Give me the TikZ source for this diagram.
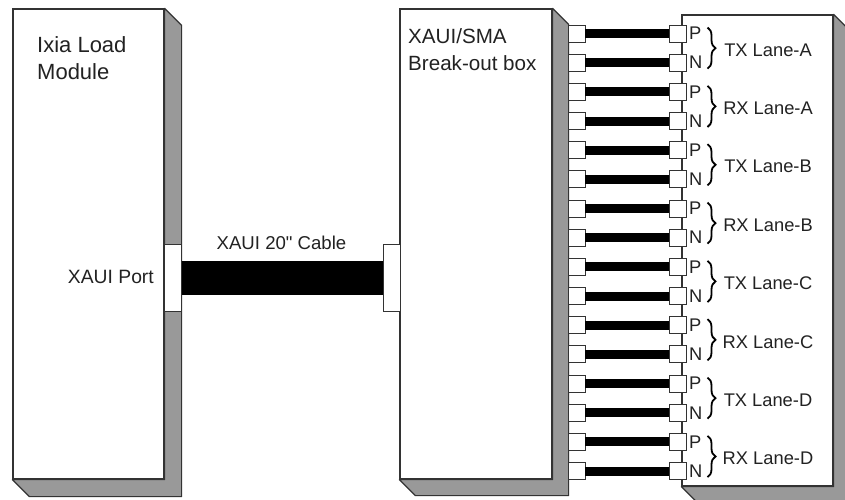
\documentclass[tikz,border=0pt]{standalone}
\usepackage{fontspec}
\setmainfont{Liberation Sans}[Ligatures=TeXOff]
\usetikzlibrary{arrows.meta,positioning,calc,decorations.pathreplacing}
\definecolor{XAline}{RGB}{51,51,51}
\definecolor{XAside}{RGB}{153,153,153}
\definecolor{XAtext}{RGB}{34,34,34}
\tikzset{
  chassis/.style={draw=XAline,line width=1.2pt,fill=white,inner sep=0pt},
  sideface/.style={draw=XAline,line width=1.2pt,fill=XAside,line join=round},
  bigport/.style={draw=XAline,line width=1pt,fill=white,inner sep=0pt,minimum width=17pt,minimum height=67pt},
  smallport/.style={draw=XAline,line width=0.9pt,fill=white,inner sep=0pt,minimum width=17pt,minimum height=17pt},
  bigcable/.style={draw=black,line width=34pt},
  smallcable/.style={draw=black,line width=9pt},
  lanebrace/.style={draw=black,line width=1.8pt,decorate,decoration={brace,amplitude=8pt,aspect=0.5}},
  title/.style={font=\fontsize{22}{27}\selectfont,text=XAtext,align=left,inner sep=0pt,anchor=north west},
  note/.style={font=\fontsize{18.3}{22}\selectfont,text=XAtext,inner sep=0pt}
}
\newcommand{\boxfaces}[2]{%
  \draw[sideface] (#1.north east) -- ++(#2,#2) |- ($(#1.south west)+(#2,#2)$) -- (#1.south west) -- (#1.south east) -- (#1.north east) -- cycle;
}
\begin{document}
\begin{tikzpicture}[x=1pt,y=-1pt]
  \path[clip,use as bounding box] (0,0) rectangle (845,499);
  \fill[white] (0,0) rectangle (845,499);

  \node[chassis,minimum width=151pt,minimum height=470pt] (ixia) at (88.5,244) {};
  \node[chassis,minimum width=152pt,minimum height=470pt] (breakout) at (476,244) {};
  \node[chassis,minimum width=151pt,minimum height=471pt] (lanes) at (757.5,250.5) {};
  \boxfaces{ixia}{17}
  \boxfaces{breakout}{16}
  \boxfaces{lanes}{17}

  \node[title] (ixialabel) at (37,36.5) {Ixia Load\\Module};
  \node[title,font=\fontsize{20.6}{27}\selectfont] (breakoutlabel) at (408,28) {XAUI/SMA\\Break-out box};

  \node[bigport] (ixiaport) at (172.5,277.5) {};
  \node[bigport] (boxport) at (391.5,277.5) {};
  \draw[bigcable] (ixiaport.east) -- (boxport.west);
  \node[note,font=\fontsize{19.3}{22}\selectfont,anchor=east] (portlabel) at (154,277) {XAUI Port};
  \node[note,font=\fontsize{18.6}{22}\selectfont] (cablelabel) at (281.5,243) {XAUI 20" Cable};

  \foreach \row in {0,...,15} {
    \pgfmathsetmacro{\rowy}{33.5+29.17*\row}
    \node[smallport] (out\row) at (576.5,\rowy) {};
    \node[smallport] (in\row) at (677.5,\rowy) {};
    \draw[smallcable] (out\row.east) -- (in\row.west);
  }
  \foreach \row/\pol in {0/P,1/N,2/P,3/N,4/P,5/N,6/P,7/N,8/P,9/N,10/P,11/N,12/P,13/N,14/P,15/N} {
    \node[note,anchor=west] (pol\row) at (689,{33.5+29.17*\row}) {\pol};
  }
  \foreach \first/\second/\lane in {0/1/TX Lane-A,2/3/RX Lane-A,4/5/TX Lane-B,6/7/RX Lane-B,8/9/TX Lane-C,10/11/RX Lane-C,12/13/TX Lane-D,14/15/RX Lane-D} {
    \coordinate (bracetop\first) at ($(in\first.center)+(30,-6)$);
    \coordinate (bracebot\first) at ($(in\second.center)+(30,6)$);
    \draw[lanebrace] (bracetop\first) -- (bracebot\first);
    \node[note] (lane\first) at ($(bracetop\first)!0.5!(bracebot\first)+(60.5,2)$) {\lane};
  }
\end{tikzpicture}
\end{document}
